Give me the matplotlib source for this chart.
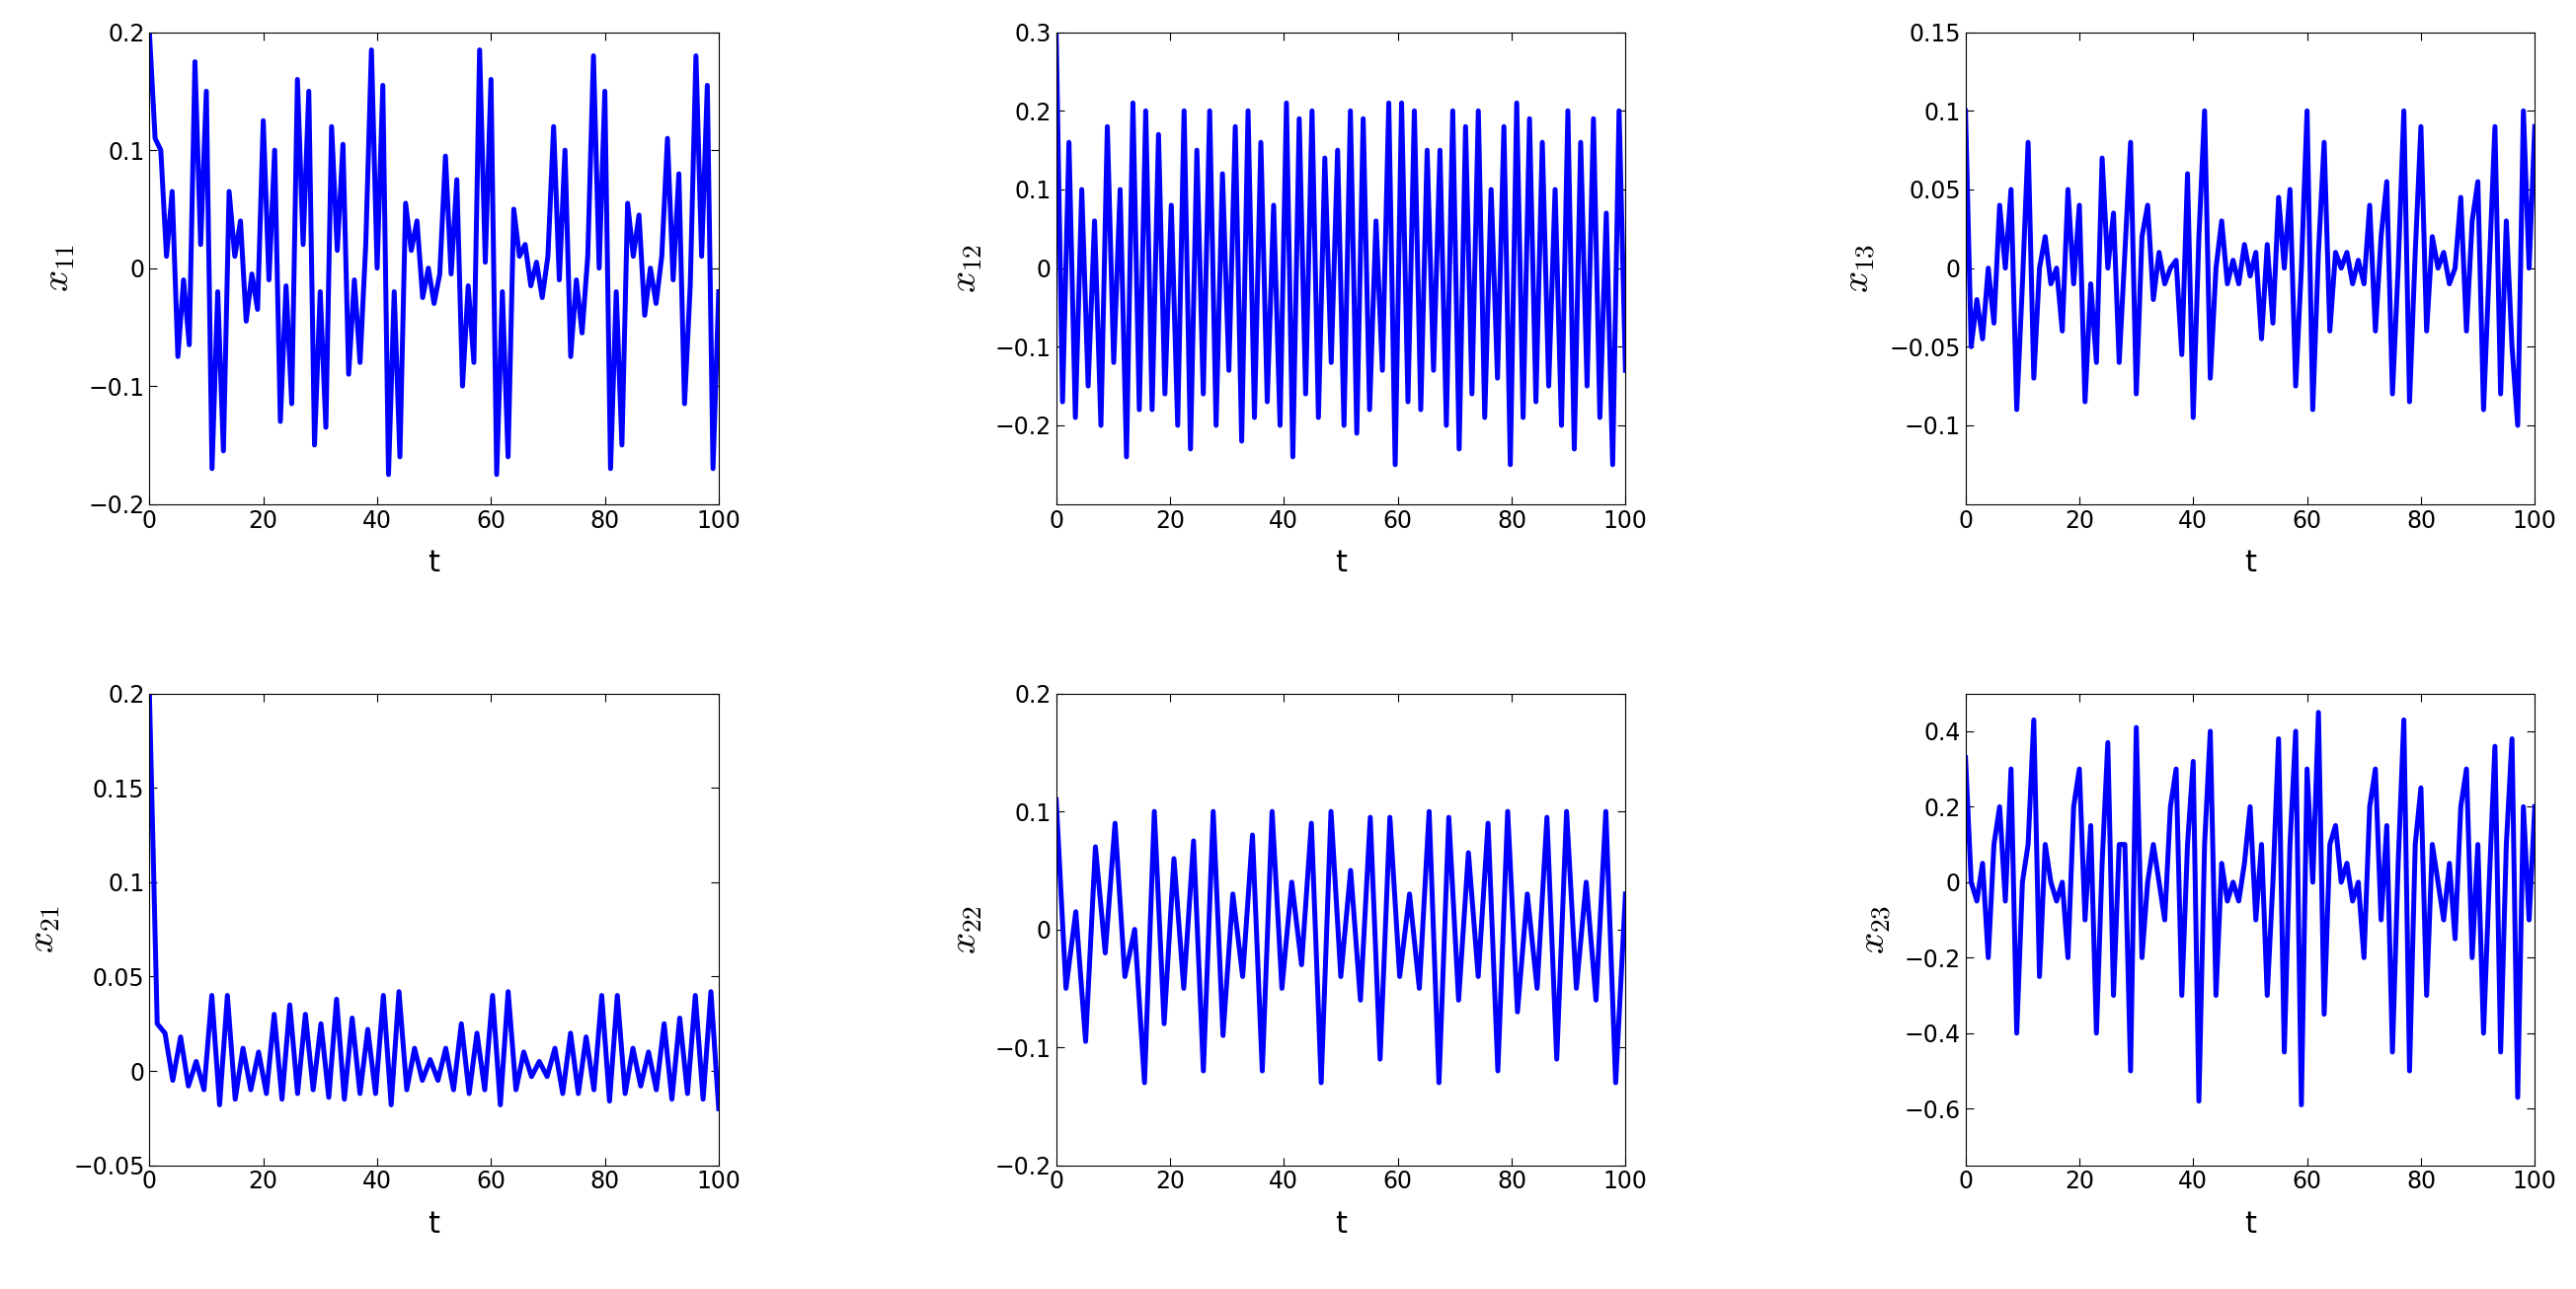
import numpy as np
import matplotlib.pyplot as plt

plt.rcParams['mathtext.fontset'] = 'cm'

# values (approximate extrema, t spaced evenly)
x11 = [0.2, 0.11, 0.1, 0.01, 0.065, -0.075, -0.01, -0.065, 0.175, 0.02, 0.15,
       -0.17, -0.02, -0.155, 0.065, 0.01, 0.04, -0.045, -0.005, -0.035, 0.125,
       -0.01, 0.1, -0.13, -0.015, -0.115, 0.16, 0.02, 0.15, -0.15, -0.02,
       -0.135, 0.12, 0.015, 0.105, -0.09, -0.01, -0.08, 0.02, 0.185, 0.0,
       0.155, -0.175, -0.02, -0.16, 0.055, 0.015, 0.04, -0.025, 0.0, -0.03,
       -0.005, 0.095, -0.005, 0.075, -0.1, -0.015, -0.08, 0.185, 0.005, 0.16,
       -0.175, -0.02, -0.16, 0.05, 0.01, 0.02, -0.015, 0.005, -0.025, 0.01,
       0.12, -0.01, 0.1, -0.075, -0.01, -0.055, 0.01, 0.18, 0.0, 0.15,
       -0.17, -0.02, -0.15, 0.055, 0.01, 0.045, -0.04, 0.0, -0.03, 0.01,
       0.11, -0.01, 0.08, -0.115, -0.015, 0.18, 0.01, 0.155, -0.17, -0.02]
x13 = [0.1, -0.05, -0.02, -0.045, 0.0, -0.035, 0.04, 0.0, 0.05, -0.09, -0.01,
       0.08, -0.07, 0.0, 0.02, -0.01, 0.0, -0.04, 0.05, -0.01, 0.04, -0.085,
       -0.01, -0.06, 0.07, 0.0, 0.035, -0.06, 0.01, 0.08, -0.08, 0.02, 0.04,
       -0.02, 0.01, -0.01, 0.0, 0.005, -0.055, 0.06, -0.095, 0.02, 0.1, -0.07,
       0.0, 0.03, -0.01, 0.005, -0.01, 0.015, -0.005, 0.01, -0.045, 0.015,
       -0.035, 0.045, 0.0, 0.05, -0.075, 0.0, 0.1, -0.09, 0.01, 0.08, -0.04,
       0.01, 0.0, 0.01, -0.01, 0.005, -0.01, 0.04, -0.04, 0.02, 0.055, -0.08,
       0.0, 0.1, -0.085, 0.01, 0.09, -0.04, 0.02, 0.0, 0.01, -0.01, 0.0,
       0.045, -0.04, 0.03, 0.055, -0.09, 0.0, 0.09, -0.08, 0.03, -0.05, -0.1,
       0.1, 0.0, 0.09]
x23 = [0.33, 0.0, -0.05, 0.05, -0.2, 0.1, 0.2, -0.05, 0.3, -0.4, 0.0,
       0.1, 0.43, -0.25, 0.1, 0.0, -0.05, 0.0, -0.2, 0.2, 0.3, -0.1,
       0.15, -0.4, 0.05, 0.37, -0.3, 0.1, 0.1, -0.5, 0.41, -0.2, 0.0,
       0.1, 0.0, -0.1, 0.2, 0.3, -0.3, 0.1, 0.32, -0.58, 0.1, 0.4, -0.3,
       0.05, -0.05, 0.0, -0.05, 0.05, 0.2, -0.1, 0.1, -0.3, 0.0, 0.38,
       -0.45, 0.1, 0.4, -0.59, 0.3, 0.0, 0.45, -0.35, 0.1, 0.15, 0.0,
       0.05, -0.05, 0.0, -0.2, 0.2, 0.3, -0.1, 0.15, -0.45, 0.05, 0.43,
       -0.5, 0.1, 0.25, -0.3, 0.1, 0.0, -0.1, 0.05, -0.15, 0.2, 0.3,
       -0.2, 0.1, -0.4, 0.0, 0.36, -0.45, 0.1, 0.38, -0.57, 0.2, -0.1, 0.2]
x12 = [0.3, -0.17, 0.16, -0.19, 0.1, -0.15, 0.06, -0.2, 0.18, -0.12, 0.1,
       -0.24, 0.21, -0.18, 0.2, -0.18, 0.17, -0.16, 0.08, -0.2, 0.2, -0.23,
       0.15, -0.16, 0.2, -0.2, 0.12, -0.13, 0.18, -0.22, 0.2, -0.19, 0.16,
       -0.17, 0.08, -0.2, 0.21, -0.24, 0.19, -0.16, 0.2, -0.19, 0.14, -0.12,
       0.15, -0.2, 0.2, -0.21, 0.19, -0.18, 0.06, -0.13, 0.21, -0.25, 0.21,
       -0.17, 0.2, -0.18, 0.15, -0.13, 0.15, -0.2, 0.2, -0.23, 0.18, -0.16,
       0.2, -0.19, 0.1, -0.14, 0.18, -0.25, 0.21, -0.19, 0.19, -0.17, 0.16,
       -0.15, 0.1, -0.2, 0.2, -0.23, 0.16, -0.15, 0.19, -0.19, 0.07, -0.25,
       0.2, -0.13]
x21 = [0.2, 0.025, 0.02, -0.005, 0.018, -0.008, 0.005, -0.01, 0.04, -0.018,
       0.04, -0.015, 0.012, -0.01, 0.01, -0.012, 0.03, -0.015, 0.035, -0.012,
       0.03, -0.01, 0.025, -0.014, 0.038, -0.015, 0.028, -0.012, 0.022, -0.012,
       0.04, -0.018, 0.042, -0.01, 0.012, -0.005, 0.006, -0.005, 0.012, -0.01,
       0.025, -0.012, 0.02, -0.01, 0.04, -0.018, 0.042, -0.01, 0.01, -0.003,
       0.005, -0.003, 0.012, -0.012, 0.02, -0.012, 0.018, -0.01, 0.04, -0.016,
       0.04, -0.012, 0.012, -0.008, 0.01, -0.01, 0.025, -0.015, 0.028, -0.012,
       0.04, -0.015, 0.042, -0.02]
x22 = [0.11, -0.05, 0.015, -0.095, 0.07, -0.02, 0.09, -0.04, 0.0, -0.13,
       0.1, -0.08, 0.06, -0.05, 0.075, -0.12, 0.1, -0.09, 0.03, -0.04,
       0.08, -0.12, 0.1, -0.05, 0.04, -0.03, 0.09, -0.13, 0.1, -0.04,
       0.05, -0.06, 0.095, -0.11, 0.095, -0.04, 0.03, -0.05, 0.1, -0.13,
       0.095, -0.06, 0.065, -0.04, 0.09, -0.12, 0.1, -0.07, 0.03, -0.05,
       0.095, -0.11, 0.1, -0.05, 0.04, -0.06, 0.1, -0.13, 0.03]

panels = [
    (x11, r'$x_{11}$', (-0.2, 0.2), np.arange(-0.2, 0.21, 0.1)),
    (x12, r'$x_{12}$', (-0.3, 0.3), np.arange(-0.2, 0.31, 0.1)),
    (x13, r'$x_{13}$', (-0.15, 0.15), np.arange(-0.1, 0.151, 0.05)),
    (x21, r'$x_{21}$', (-0.05, 0.2), np.arange(-0.05, 0.201, 0.05)),
    (x22, r'$x_{22}$', (-0.2, 0.2), np.arange(-0.2, 0.21, 0.1)),
    (x23, r'$x_{23}$', (-0.75, 0.5), np.arange(-0.6, 0.41, 0.2)),
]

lefts = [0.058, 0.41, 0.763]
bottoms = [0.609, 0.096]
w, h = 0.221, 0.366

fig = plt.figure(figsize=(26.09, 13.06), dpi=100)
for i, (vals, lab, ylim, yt) in enumerate(panels):
    ax = fig.add_axes([lefts[i % 3], bottoms[i // 3], w, h])
    t = np.linspace(0, 100, len(vals))
    ax.plot(t, vals, color='#0000ff', lw=3.6)
    ax.set_xlim(0, 100)
    ax.set_ylim(*ylim)
    ax.set_yticks(yt)
    ax.set_yticklabels([('%g' % round(v, 3)).replace('-', '\u2212') for v in yt])
    ax.set_xticks(range(0, 101, 20))
    ax.tick_params(labelsize=17, direction='in', length=6, top=True, right=True)
    ax.set_xlabel('t', fontsize=22, labelpad=12)
    ax.set_ylabel(lab, fontsize=28, labelpad=8)
fig.savefig('out.png')
